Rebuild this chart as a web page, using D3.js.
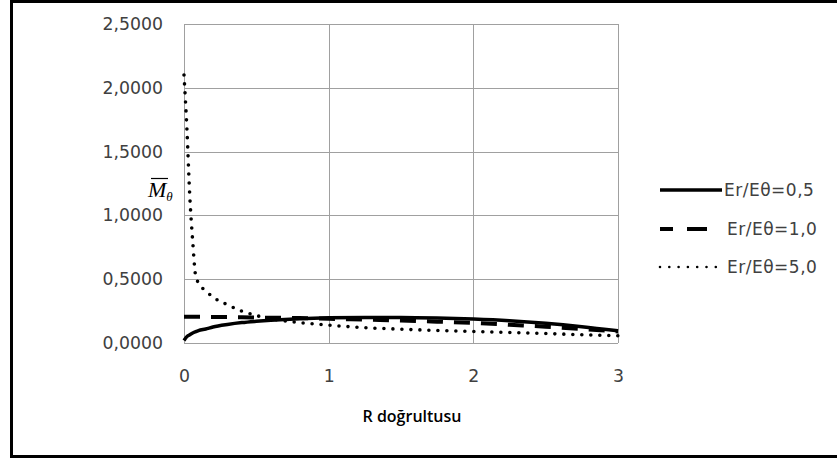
<!DOCTYPE html>
<html>
<head>
<meta charset="utf-8">
<script src="https://cdn.jsdelivr.net/npm/d3@7"></script>
<style>
  html, body { margin: 0; padding: 0; background: #fff; }
  svg { display: block; }
</style>
</head>
<body>
<div id="chart"></div>
<script>
// data
const rValues = [0, 0.02, 0.04, 0.06, 0.08, 0.1, 0.15, 0.2, 0.3, 0.4, 0.5, 0.6, 0.8, 1.0, 1.25, 1.5, 1.75, 2.0, 2.25, 2.5, 2.75, 3.0]
const ratio05 = [0.02, 0.05, 0.065, 0.078, 0.088, 0.097, 0.11, 0.125, 0.145, 0.16, 0.17, 0.178, 0.19, 0.197, 0.2, 0.2, 0.196, 0.188, 0.175, 0.155, 0.128, 0.095]
const ratio10 = [0.205, 0.205, 0.205, 0.205, 0.205, 0.205, 0.205, 0.204, 0.203, 0.202, 0.2, 0.198, 0.195, 0.19, 0.183, 0.176, 0.167, 0.158, 0.143, 0.128, 0.11, 0.09]
const ratio50 = [2.10, 1.68, 1.15, 0.80, 0.53, 0.47, 0.41, 0.36, 0.30, 0.25, 0.215, 0.19, 0.16, 0.14, 0.12, 0.108, 0.098, 0.09, 0.082, 0.074, 0.065, 0.057]
const seriesNames = ['Er/Eθ=0,5', 'Er/Eθ=1,0', 'Er/Eθ=5,0']
const xTicks = [0, 1, 2, 3]
const yTicks = [0, 0.5, 1, 1.5, 2, 2.5]

const width = 837
const height = 459
const margin = {left: 184, right: 219, top: 24, bottom: 116}

const svg = d3.select('#chart').append('svg')
  .attr('width', width)
  .attr('height', height)

// outer frame
svg.append('rect')
  .attr('x', 11.5).attr('y', 1.5)
  .attr('width', 840).attr('height', 455)
  .attr('fill', 'none')
  .attr('stroke', '#000')
  .attr('stroke-width', 3)

const x = d3.scaleLinear().domain([0, 3]).range([margin.left, width - margin.right])
const y = d3.scaleLinear().domain([0, 2.5]).range([height - margin.bottom, margin.top])

// gridlines
svg.append('g')
  .selectAll('line.h')
  .data(yTicks)
  .enter().append('line')
  .attr('x1', x(0)).attr('x2', x(3))
  .attr('y1', d => Math.round(y(d)) + 0.5).attr('y2', d => Math.round(y(d)) + 0.5)
  .attr('stroke', '#a0a0a0').attr('stroke-width', 1)

svg.append('g')
  .selectAll('line.v')
  .data(xTicks)
  .enter().append('line')
  .attr('y1', y(0)).attr('y2', y(2.5))
  .attr('x1', d => Math.round(x(d)) + 0.5).attr('x2', d => Math.round(x(d)) + 0.5)
  .attr('stroke', '#a0a0a0').attr('stroke-width', 1)

// axes (labels only)
const yAxis = d3.axisLeft(y).tickValues(yTicks).tickSize(0).tickPadding(21)
  .tickFormat(d => d3.format('.4f')(d).replace('.', ','))
const xAxis = d3.axisBottom(x).tickValues(xTicks).tickSize(0).tickPadding(27)
  .tickFormat(d3.format('d'))

const gy = svg.append('g').attr('transform', `translate(${x(0)},0)`).call(yAxis)
const gx = svg.append('g').attr('transform', `translate(0,${y(0)})`).call(xAxis)
;[gy, gx].forEach(g => {
  g.select('.domain').remove()
  g.selectAll('text')
    .attr('font-family', 'DejaVu Sans')
    .attr('font-size', 17.3)
    .attr('fill', '#404040')
})

// series
const series = [
  {name: seriesNames[0], values: ratio05, width: 3.5, dash: null, cap: 'butt'},
  {name: seriesNames[1], values: ratio10, width: 4, dash: '16,11', cap: 'butt'},
  {name: seriesNames[2], values: ratio50, width: 3.6, dash: '0,9', cap: 'round'}
]

const line = d3.line()
  .x((d, i) => x(rValues[i]))
  .y(d => y(d))
  .curve(d3.curveMonotoneX)

const plot = svg.append('g')
series.forEach(s => {
  plot.append('path')
    .datum(s.values)
    .attr('d', line)
    .attr('fill', 'none')
    .attr('stroke', '#000')
    .attr('stroke-width', s.width)
    .attr('stroke-dasharray', s.dash)
    .attr('stroke-linecap', s.cap)
})

// legend
const legendY = [190, 229, 267]
const legendEnd = [722, 707, 717]
const legendDash = [null, '13,14,20,0', '0,9.3']
const legend = svg.append('g')
series.forEach((s, i) => {
  legend.append('line')
    .attr('x1', 660).attr('x2', legendEnd[i])
    .attr('y1', legendY[i]).attr('y2', legendY[i])
    .attr('stroke', '#000')
    .attr('stroke-width', i === 2 ? 2.6 : s.width)
    .attr('stroke-dasharray', legendDash[i])
    .attr('stroke-linecap', s.cap)
  legend.append('text')
    .attr('x', i === 0 ? 724 : 727)
    .attr('y', legendY[i] + 6)
    .attr('font-family', 'DejaVu Sans')
    .attr('font-size', 17)
    .attr('letter-spacing', 0.5)
    .attr('fill', '#404040')
    .text(s.name)
})

// axis titles
svg.append('text')
  .attr('x', 412)
  .attr('y', 422)
  .attr('text-anchor', 'middle')
  .attr('font-family', 'Open Sans')
  .attr('font-weight', 600)
  .attr('font-size', 16)
  .attr('fill', '#000')
  .text('R doğrultusu')

const yTitle = svg.append('text')
  .attr('x', 148)
  .attr('y', 197)
  .attr('font-family', 'Liberation Serif')
  .attr('font-style', 'italic')
  .attr('font-size', 22)
  .attr('fill', '#000')
yTitle.append('tspan').text('M')
yTitle.append('tspan').attr('font-size', 13).attr('dy', 4).text('θ')
svg.append('line')
  .attr('x1', 151).attr('x2', 168)
  .attr('y1', 178.5).attr('y2', 178.5)
  .attr('stroke', '#000').attr('stroke-width', 1.2)
</script>
</body>
</html>
